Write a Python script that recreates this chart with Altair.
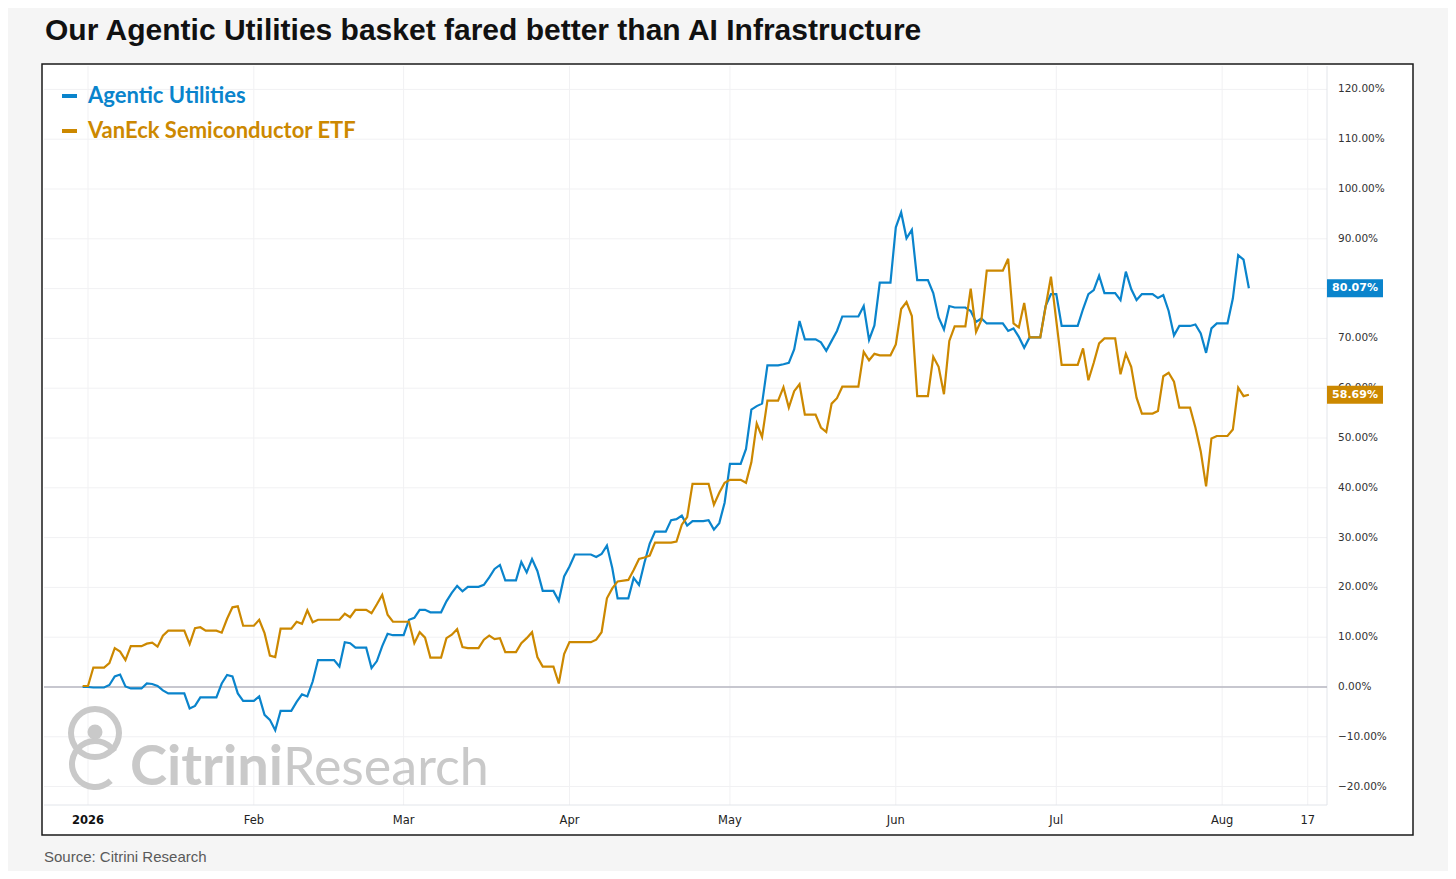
import altair as alt
import pandas as pd

# ---------------- data ----------------
title_text = "Our Agentic Utilities basket fared better than AI Infrastructure"
source_text = "Source: Citrini Research"
series_names = ["Agentic Utilities", "VanEck Semiconductor ETF"]
series_colors = ["#0A84CC", "#CC8800"]

agentic_dates = [
    "2025-12-31", "2026-01-01", "2026-01-02", "2026-01-04", "2026-01-05", "2026-01-06", "2026-01-07",
    "2026-01-08", "2026-01-09", "2026-01-11", "2026-01-12", "2026-01-13", "2026-01-14", "2026-01-15",
    "2026-01-16", "2026-01-19", "2026-01-20", "2026-01-21", "2026-01-22", "2026-01-25", "2026-01-26",
    "2026-01-27", "2026-01-28", "2026-01-29", "2026-01-30", "2026-02-01", "2026-02-02", "2026-02-03",
    "2026-02-04", "2026-02-05", "2026-02-06", "2026-02-08", "2026-02-09", "2026-02-10", "2026-02-11",
    "2026-02-12", "2026-02-13", "2026-02-16", "2026-02-17", "2026-02-18", "2026-02-19", "2026-02-20",
    "2026-02-22", "2026-02-23", "2026-02-24", "2026-02-25", "2026-02-26", "2026-02-27", "2026-03-01",
    "2026-03-02", "2026-03-03", "2026-03-04", "2026-03-05", "2026-03-06", "2026-03-08", "2026-03-09",
    "2026-03-10", "2026-03-11", "2026-03-12", "2026-03-13", "2026-03-15", "2026-03-16", "2026-03-17",
    "2026-03-18", "2026-03-19", "2026-03-20", "2026-03-22", "2026-03-23", "2026-03-24", "2026-03-25",
    "2026-03-26", "2026-03-27", "2026-03-29", "2026-03-30", "2026-03-31", "2026-04-01", "2026-04-02",
    "2026-04-05", "2026-04-06", "2026-04-07", "2026-04-08", "2026-04-09", "2026-04-10", "2026-04-12",
    "2026-04-13", "2026-04-14", "2026-04-15", "2026-04-16", "2026-04-17", "2026-04-19", "2026-04-20",
    "2026-04-21", "2026-04-22", "2026-04-23", "2026-04-24", "2026-04-26", "2026-04-27", "2026-04-28",
    "2026-04-29", "2026-04-30", "2026-05-01", "2026-05-03", "2026-05-04", "2026-05-05", "2026-05-06",
    "2026-05-07", "2026-05-08", "2026-05-10", "2026-05-11", "2026-05-12", "2026-05-13", "2026-05-14",
    "2026-05-15", "2026-05-17", "2026-05-18", "2026-05-19", "2026-05-20", "2026-05-21", "2026-05-22",
    "2026-05-25", "2026-05-26", "2026-05-27", "2026-05-28", "2026-05-29", "2026-05-31", "2026-06-01",
    "2026-06-02", "2026-06-03", "2026-06-04", "2026-06-05", "2026-06-07", "2026-06-08", "2026-06-09",
    "2026-06-10", "2026-06-11", "2026-06-12", "2026-06-14", "2026-06-15", "2026-06-16", "2026-06-17",
    "2026-06-18", "2026-06-21", "2026-06-22", "2026-06-23", "2026-06-24", "2026-06-25", "2026-06-26",
    "2026-06-28", "2026-06-29", "2026-06-30", "2026-07-01", "2026-07-02", "2026-07-05", "2026-07-06",
    "2026-07-07", "2026-07-08", "2026-07-09", "2026-07-10", "2026-07-12", "2026-07-13", "2026-07-14",
    "2026-07-15", "2026-07-16", "2026-07-17", "2026-07-19", "2026-07-20", "2026-07-21", "2026-07-22",
    "2026-07-23", "2026-07-24", "2026-07-26", "2026-07-27", "2026-07-28", "2026-07-29", "2026-07-30",
    "2026-07-31", "2026-08-02", "2026-08-03", "2026-08-04", "2026-08-05", "2026-08-06",
]
agentic_values = [
    0.0, 0.0, -0.1, -0.1, 0.4, 2.1, 2.5,
    0.1, -0.3, -0.3, 0.7, 0.6, 0.2, -0.7,
    -1.3, -1.3, -4.3, -3.8, -2.1, -2.1, 0.7,
    2.4, 2.1, -1.3, -2.8, -2.8, -1.9, -5.6,
    -6.6, -8.7, -4.8, -4.8, -3.0, -1.5, -1.9,
    1.1, 5.4, 5.4, 4.1, 9.0, 8.8, 7.9,
    7.9, 3.8, 5.2, 8.2, 10.7, 10.4, 10.4,
    13.5, 13.9, 15.5, 15.5, 15.0, 15.0, 17.2,
    18.9, 20.3, 19.2, 20.1, 20.1, 20.5, 22.0,
    23.7, 24.5, 21.4, 21.4, 25.1, 23.0, 25.7,
    23.3, 19.3, 19.3, 17.3, 22.2, 24.2, 26.6,
    26.6, 26.1, 26.7, 28.4, 23.9, 17.8, 17.8,
    21.9, 20.5, 24.9, 28.8, 31.2, 31.2, 33.5,
    33.7, 34.4, 32.4, 33.3, 33.3, 33.5, 31.6,
    32.9, 37.0, 44.8, 44.8, 47.8, 55.7, 56.4,
    56.9, 64.6, 64.6, 64.8, 65.1, 67.8, 73.5,
    69.8, 69.8, 69.2, 67.5, 69.5, 71.5, 74.4,
    74.4, 76.5, 69.7, 72.6, 81.2, 81.2, 92.3,
    95.3, 90.1, 91.8, 81.7, 81.7, 79.1, 74.2,
    71.8, 76.5, 76.2, 76.2, 75.5, 73.3, 74.0,
    73.0, 73.0, 71.5, 72.0, 70.3, 68.1, 70.2,
    70.2, 76.5, 78.9, 78.9, 72.5, 72.5, 75.9,
    78.9, 79.7, 82.6, 79.1, 79.1, 77.7, 83.4,
    79.9, 77.7, 78.9, 78.9, 78.1, 78.7, 75.5,
    70.6, 72.5, 72.5, 72.8, 71.0, 67.1, 72.0,
    73.0, 73.0, 78.0, 86.7, 85.8, 80.07,
]

vaneck_dates = [
    "2025-12-31", "2026-01-01", "2026-01-02", "2026-01-04", "2026-01-05", "2026-01-06", "2026-01-07",
    "2026-01-08", "2026-01-09", "2026-01-11", "2026-01-12", "2026-01-13", "2026-01-14", "2026-01-15",
    "2026-01-16", "2026-01-19", "2026-01-20", "2026-01-21", "2026-01-22", "2026-01-23", "2026-01-25",
    "2026-01-26", "2026-01-27", "2026-01-28", "2026-01-29", "2026-01-30", "2026-02-01", "2026-02-02",
    "2026-02-03", "2026-02-04", "2026-02-05", "2026-02-06", "2026-02-08", "2026-02-09", "2026-02-10",
    "2026-02-11", "2026-02-12", "2026-02-13", "2026-02-17", "2026-02-18", "2026-02-19", "2026-02-20",
    "2026-02-22", "2026-02-23", "2026-02-24", "2026-02-25", "2026-02-26", "2026-02-27", "2026-03-02",
    "2026-03-03", "2026-03-04", "2026-03-05", "2026-03-06", "2026-03-08", "2026-03-09", "2026-03-10",
    "2026-03-11", "2026-03-12", "2026-03-13", "2026-03-15", "2026-03-16", "2026-03-17", "2026-03-18",
    "2026-03-19", "2026-03-20", "2026-03-22", "2026-03-23", "2026-03-24", "2026-03-25", "2026-03-26",
    "2026-03-27", "2026-03-29", "2026-03-30", "2026-03-31", "2026-04-01", "2026-04-05", "2026-04-06",
    "2026-04-07", "2026-04-08", "2026-04-09", "2026-04-10", "2026-04-12", "2026-04-13", "2026-04-14",
    "2026-04-15", "2026-04-16", "2026-04-17", "2026-04-20", "2026-04-21", "2026-04-22", "2026-04-23",
    "2026-04-24", "2026-04-27", "2026-04-28", "2026-04-29", "2026-04-30", "2026-05-01", "2026-05-03",
    "2026-05-04", "2026-05-05", "2026-05-06", "2026-05-07", "2026-05-08", "2026-05-10", "2026-05-11",
    "2026-05-12", "2026-05-13", "2026-05-14", "2026-05-15", "2026-05-17", "2026-05-18", "2026-05-19",
    "2026-05-20", "2026-05-21", "2026-05-22", "2026-05-25", "2026-05-26", "2026-05-27", "2026-05-28",
    "2026-05-29", "2026-05-31", "2026-06-01", "2026-06-02", "2026-06-03", "2026-06-04", "2026-06-05",
    "2026-06-07", "2026-06-08", "2026-06-09", "2026-06-10", "2026-06-11", "2026-06-12", "2026-06-14",
    "2026-06-15", "2026-06-16", "2026-06-17", "2026-06-18", "2026-06-21", "2026-06-22", "2026-06-23",
    "2026-06-24", "2026-06-25", "2026-06-26", "2026-06-28", "2026-06-29", "2026-06-30", "2026-07-02",
    "2026-07-05", "2026-07-06", "2026-07-07", "2026-07-08", "2026-07-09", "2026-07-10", "2026-07-12",
    "2026-07-13", "2026-07-14", "2026-07-15", "2026-07-16", "2026-07-17", "2026-07-19", "2026-07-20",
    "2026-07-21", "2026-07-22", "2026-07-23", "2026-07-24", "2026-07-26", "2026-07-27", "2026-07-28",
    "2026-07-29", "2026-07-30", "2026-07-31", "2026-08-02", "2026-08-03", "2026-08-04", "2026-08-05",
    "2026-08-06",
]
vaneck_values = [
    0.2, 0.2, 3.9, 3.9, 4.8, 7.8, 7.1,
    5.4, 8.2, 8.2, 8.7, 8.9, 8.1, 10.3,
    11.3, 11.3, 8.6, 11.8, 12.0, 11.3, 11.3,
    10.9, 13.7, 16.0, 16.2, 12.3, 12.3, 13.5,
    10.8, 6.3, 6.0, 11.7, 11.7, 13.1, 12.7,
    15.4, 13.0, 13.5, 13.5, 14.7, 14.0, 15.5,
    15.5, 14.8, 16.6, 18.5, 14.5, 13.1, 13.1,
    8.8, 11.0, 9.9, 5.9, 5.9, 9.8, 10.5,
    11.6, 8.0, 7.8, 7.8, 9.5, 10.3, 9.6,
    9.8, 7.0, 7.0, 8.8, 9.8, 11.0, 6.0,
    4.1, 4.1, 0.7, 6.6, 9.0, 9.0, 9.5,
    11.0, 17.8, 19.8, 21.2, 21.5, 23.5, 25.7,
    26.0, 26.4, 29.0, 29.0, 29.2, 32.6, 34.1,
    40.8, 40.8, 36.6, 39.0, 41.0, 41.6, 41.6,
    41.0, 45.1, 52.9, 50.2, 57.5, 57.5, 60.2,
    56.1, 59.4, 60.8, 54.7, 54.7, 52.1, 51.2,
    56.9, 58.0, 60.3, 60.3, 67.3, 65.6, 66.9,
    66.6, 66.6, 68.8, 75.9, 77.3, 74.5, 58.4,
    58.4, 66.3, 64.3, 58.8, 69.5, 72.4, 72.4,
    80.0, 71.3, 73.7, 83.6, 83.6, 86.0, 73.0,
    72.2, 77.1, 70.2, 70.2, 76.3, 82.4, 64.7,
    64.7, 68.0, 61.6, 65.1, 69.0, 70.0, 70.0,
    62.8, 66.9, 64.3, 58.1, 54.9, 54.9, 55.4,
    62.4, 63.1, 61.3, 56.1, 56.1, 52.1, 47.3,
    40.3, 49.9, 50.4, 50.4, 51.7, 60.1, 58.4,
    58.69,
]

y_ticks = [-20, -10, 0, 10, 20, 30, 40, 50, 60, 70, 80, 90, 100, 110, 120]
x_tick_dates = ["2026-01-01", "2026-02-01", "2026-03-01", "2026-04-01", "2026-05-01",
                "2026-06-01", "2026-07-01", "2026-08-01", "2026-08-17"]
x_tick_labels = ["2026", "Feb", "Mar", "Apr", "May", "Jun", "Jul", "Aug", "17"]

# ---------------- tables ----------------
df_a = pd.DataFrame({"date": agentic_dates, "value": agentic_values, "series": series_names[0]})
df_b = pd.DataFrame({"date": vaneck_dates, "value": vaneck_values, "series": series_names[1]})
df_last = pd.concat([df_a.tail(1), df_b.tail(1)], ignore_index=True)
df_yt = pd.DataFrame({"v": y_ticks})
df_xt = pd.DataFrame({"d": x_tick_dates, "lab": x_tick_labels})
df_zero = pd.DataFrame({"v": [0]})
one = pd.DataFrame({"k": [0]})

# ---------------- layout ----------------
W, H = 1283, 739
GRID = "#f1f1f3"
LABEL_FONT = "DejaVu Sans"

xs = alt.Scale(type="utc", domain=[
    alt.DateTime(year=2025, month=12, date=23, hours=18, minutes=37, utc=True),
    alt.DateTime(year=2026, month=8, date=20, hours=14, minutes=24, utc=True)])
ys = alt.Scale(domain=[-23.7, 124.7], nice=False, zero=False)
cs = alt.Scale(domain=series_names, range=series_colors)

X = lambda f: alt.X(f, scale=xs, axis=None)
Y = lambda f: alt.Y(f, scale=ys, axis=None)

box = alt.Chart(one).mark_rect(fill="white", stroke="#1a1a1a", strokeWidth=1.5).encode(
    x=alt.value(-2), x2=alt.value(W + 86), y=alt.value(-2), y2=alt.value(H + 30))

hgrid = alt.Chart(df_yt).mark_rule(color=GRID, strokeWidth=1).encode(
    y=Y("v:Q"), x=alt.value(0), x2=alt.value(W))
vgrid = alt.Chart(df_xt).mark_rule(color=GRID, strokeWidth=1).encode(
    x=X("d:T"), y=alt.value(0), y2=alt.value(H))
frame_r = alt.Chart(one).mark_rule(color="#e2e5ea", strokeWidth=1).encode(
    x=alt.value(W), y=alt.value(0), y2=alt.value(H))
frame_b = alt.Chart(one).mark_rule(color="#e2e5ea", strokeWidth=1).encode(
    y=alt.value(H), x=alt.value(0), x2=alt.value(W))

# watermark (logo + wordmark)
WM = "#c9c9c9"
ring = alt.Chart(one).mark_arc(theta=0, theta2=6.2832, radius=27, radius2=21, color=WM).encode(
    x=alt.value(51), y=alt.value(667))
head = alt.Chart(one).mark_arc(theta=0, theta2=6.2832, radius=7.5, color=WM).encode(
    x=alt.value(51), y=alt.value(666))
tail = alt.Chart(one).mark_arc(theta=2.39, theta2=7.29, radius=26, radius2=20, color=WM).encode(
    x=alt.value(51), y=alt.value(698))
wm1 = alt.Chart(one).mark_text(text="Citrini", font="Lato", fontWeight="bold", fontSize=56,
                               color=WM, align="left", baseline="alphabetic").encode(
    x=alt.value(86), y=alt.value(719))
wm2 = alt.Chart(one).mark_text(text="Research", font="Lato", fontWeight="normal", fontSize=52,
                               color=WM, align="left", baseline="alphabetic").encode(
    x=alt.value(239), y=alt.value(719))

zero = alt.Chart(df_zero).mark_rule(color="#b7b7c1", strokeWidth=1.5).encode(
    y=Y("v:Q"), x=alt.value(0), x2=alt.value(W))

ylabels = alt.Chart(df_yt).transform_calculate(
    lab="format(datum.v, '.2f') + '%'"
).mark_text(align="left", baseline="middle", font=LABEL_FONT, fontSize=10.5, color="#333333").encode(
    y=Y("v:Q"), x=alt.value(W + 11), text="lab:N")

xlab_first = alt.Chart(df_xt.head(1)).mark_text(
    align="center", baseline="middle", font=LABEL_FONT, fontSize=11.5, fontWeight="bold", color="#111111"
).encode(x=X("d:T"), y=alt.value(H + 16), text="lab:N")
xlab_rest = alt.Chart(df_xt.iloc[1:]).mark_text(
    align="center", baseline="middle", font=LABEL_FONT, fontSize=11.5, color="#222222"
).encode(x=X("d:T"), y=alt.value(H + 16), text="lab:N")

line_a = alt.Chart(df_a).mark_line(strokeWidth=2.2, color=series_colors[0]).encode(
    x=X("date:T"), y=Y("value:Q"))
line_b = alt.Chart(df_b).mark_line(strokeWidth=2.2, color=series_colors[1]).encode(
    x=X("date:T"), y=Y("value:Q"))

end_box = alt.Chart(df_last).mark_point(
    shape="M-1,-0.32L1,-0.32L1,0.32L-1,0.32Z", filled=True, size=3136, opacity=1, strokeWidth=0
).encode(y=Y("value:Q"), x=alt.value(W + 28),
         color=alt.Color("series:N", scale=cs, legend=None))
end_txt = alt.Chart(df_last).transform_calculate(
    lab="format(datum.value, '.2f') + '%'"
).mark_text(align="center", baseline="middle", font=LABEL_FONT, fontSize=11, fontWeight="bold",
            color="white").encode(y=Y("value:Q"), x=alt.value(W + 28), text="lab:N")

# legend
leg = []
for i, (name, col) in enumerate(zip(series_names, series_colors)):
    yy = 30 + 35 * i
    leg.append(alt.Chart(one).mark_rule(color=col, strokeWidth=4).encode(
        x=alt.value(18), x2=alt.value(33), y=alt.value(yy)))
    leg.append(alt.Chart(one).mark_text(text=name, font="Lato", fontWeight="bold", fontSize=22,
                                        color=col, align="left", baseline="middle").encode(
        x=alt.value(44), y=alt.value(yy)))

title = alt.Chart(one).mark_text(text=title_text, font="Liberation Sans", fontWeight="bold",
                                 fontSize=30, color="#111111", align="left",
                                 baseline="alphabetic").encode(x=alt.value(1), y=alt.value(-26))
source = alt.Chart(one).mark_text(text=source_text, font="Liberation Sans", fontSize=15,
                                  color="#5a5a5a", align="left", baseline="middle").encode(
    x=alt.value(0), y=alt.value(H + 52))

chart = alt.layer(
    box, hgrid, vgrid, frame_r, frame_b, ring, head, tail, wm1, wm2, zero,
    ylabels, xlab_first, xlab_rest, line_a, line_b, end_box, end_txt, *leg, title, source
).properties(
    width=W, height=H,
    autosize=alt.AutoSizeParams(type="none"),
    padding={"left": 36, "top": 58, "right": 121, "bottom": 66},
    background="#f5f5f5",
).configure_view(stroke=None)

chart.save("out.html", embed_options={"renderer": "svg", "actions": False})
